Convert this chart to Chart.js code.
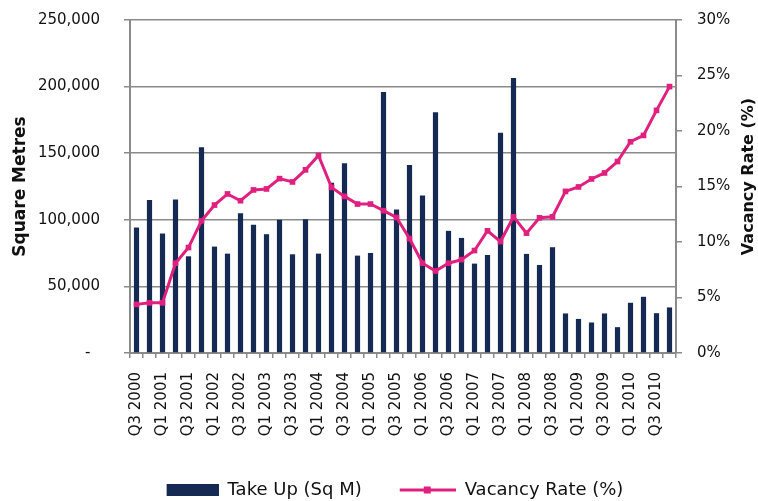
<!DOCTYPE html>
<html>
<head>
<meta charset="utf-8">
<script src="https://cdn.jsdelivr.net/npm/chart.js@4/dist/chart.umd.min.js"></script>
<style>
  html, body { margin: 0; padding: 0; background: #fff; }
  #wrap { width: 758px; height: 501px; }
</style>
</head>
<body>
<div id="wrap"><canvas id="chart"></canvas></div>
<script>
// Quarters Q3 2000 .. Q4 2010
const quarters = [
  "Q3 2000", "Q4 2000",
  "Q1 2001", "Q2 2001", "Q3 2001", "Q4 2001",
  "Q1 2002", "Q2 2002", "Q3 2002", "Q4 2002",
  "Q1 2003", "Q2 2003", "Q3 2003", "Q4 2003",
  "Q1 2004", "Q2 2004", "Q3 2004", "Q4 2004",
  "Q1 2005", "Q2 2005", "Q3 2005", "Q4 2005",
  "Q1 2006", "Q2 2006", "Q3 2006", "Q4 2006",
  "Q1 2007", "Q2 2007", "Q3 2007", "Q4 2007",
  "Q1 2008", "Q2 2008", "Q3 2008", "Q4 2008",
  "Q1 2009", "Q2 2009", "Q3 2009", "Q4 2009",
  "Q1 2010", "Q2 2010", "Q3 2010", "Q4 2010"
];

// Take up, square metres
const takeUp = [
  94200, 114900, 89700, 115300, 72600, 154500, 79900, 74600, 105000, 96200,
  89200, 100000, 74100, 100500, 74600, 127900, 142400, 73100, 75100, 196000,
  107800, 141200, 118300, 180700, 91700, 86400, 67100, 73600, 165300, 206500,
  74400, 66100, 79400, 29700, 25600, 22900, 29700, 19400, 37700, 42200,
  29900, 34200
];

// Vacancy rate, %
const vacancyRate = [
  4.38, 4.52, 4.52, 8.09, 9.50, 11.91, 13.33, 14.33, 13.72, 14.69,
  14.78, 15.71, 15.41, 16.50, 17.79, 14.92, 14.11, 13.42, 13.42, 12.82,
  12.21, 10.31, 8.09, 7.39, 8.09, 8.41, 9.23, 11.01, 10.04, 12.27,
  10.80, 12.18, 12.27, 14.56, 14.96, 15.68, 16.22, 17.25, 19.03, 19.60,
  21.86, 24.00
];

const rightAxisTitle = "Vacancy Rate (%)";

const barColor = "#152A52";
const lineColor = "#E0207F";
const axisColor = "#8A8A8A";
const textColor = "#111111";
const fontFamily = "'DejaVu Sans', sans-serif";

// legend swatches drawn into small canvases and used as point styles
// (both 78px wide, drawn against the right edge so the gaps match)
const makeBarSwatch = () => {
  const c = document.createElement("canvas");
  c.width = 78; c.height = 12;
  const ctx = c.getContext("2d");
  ctx.fillStyle = barColor;
  ctx.fillRect(26, 0, 52, 12);
  return c;
};

const makeLineSwatch = () => {
  const c = document.createElement("canvas");
  c.width = 78; c.height = 12;
  const ctx = c.getContext("2d");
  ctx.strokeStyle = lineColor;
  ctx.lineWidth = 3;
  ctx.beginPath();
  ctx.moveTo(22, 6);
  ctx.lineTo(78, 6);
  ctx.stroke();
  ctx.fillStyle = lineColor;
  ctx.fillRect(46, 2.5, 7, 7);
  return c;
};

const swatches = [makeBarSwatch(), makeLineSwatch()];

// right axis title reads bottom to top, like the left one
const rightTitlePlugin = {
  id: "rightTitle",
  afterLayout: (chart) => {
    // push the legend a little lower
    chart.legend.top += 8;
    chart.legend.bottom += 8;
  },
  afterDraw: (chart) => {
    const { ctx, chartArea } = chart;
    ctx.save();
    ctx.translate(chart.width - 9.5, (chartArea.top + chartArea.bottom) / 2 - 10);
    ctx.rotate(-Math.PI / 2);
    ctx.fillStyle = textColor;
    ctx.font = "bold 16px " + fontFamily;
    ctx.textAlign = "center";
    ctx.textBaseline = "middle";
    ctx.fillText(rightAxisTitle, 0, 0);
    ctx.restore();
  }
};

// fixed axis widths; drop the extra top/bottom room chart.js adds for tick padding
const fixWidth = (w) => (scale) => {
  scale.width = w;
  scale.paddingTop = 0;
  scale.paddingBottom = 0;
};

new Chart(document.getElementById("chart"), {
  data: {
    labels: quarters,
    datasets: [
      {
        type: "line",
        label: "Vacancy Rate (%)",
        data: vacancyRate,
        yAxisID: "yRate",
        borderColor: lineColor,
        backgroundColor: lineColor,
        borderWidth: 3,
        pointStyle: "rect",
        pointRadius: 4,
        pointBorderWidth: 0,
        tension: 0,
        order: 1
      },
      {
        type: "bar",
        label: "Take Up (Sq M)",
        data: takeUp,
        yAxisID: "y",
        backgroundColor: barColor,
        barPercentage: 0.8,
        categoryPercentage: 0.5,
        order: 2
      }
    ]
  },
  plugins: [rightTitlePlugin],
  options: {
    responsive: true,
    maintainAspectRatio: false,
    animation: false,
    layout: { padding: { top: 20, left: 6, right: 0, bottom: 0 } },
    plugins: {
      tooltip: { enabled: false },
      legend: {
        position: "bottom",
        reverse: true,
        labels: {
          usePointStyle: true,
          pointStyleWidth: 78,
          boxHeight: 12,
          padding: 16,
          color: textColor,
          font: { family: fontFamily, size: 18 },
          generateLabels: (chart) => {
            const items = Chart.defaults.plugins.legend.labels.generateLabels(chart);
            items.forEach((item) => {
              item.pointStyle = swatches[item.datasetIndex === 1 ? 0 : 1];
            });
            return items;
          }
        }
      }
    },
    scales: {
      x: {
        offset: true,
        grid: {
          offset: true,
          drawOnChartArea: false,
          drawTicks: true,
          tickLength: 5,
          color: axisColor,
          lineWidth: 1.5
        },
        border: { color: axisColor, width: 2 },
        ticks: {
          autoSkip: false,
          minRotation: 90,
          maxRotation: 90,
          padding: 14,
          color: textColor,
          font: { family: fontFamily, size: 15 },
          callback: function (value, index) {
            return index % 2 === 0 ? this.getLabelForValue(value) : "";
          }
        },
        afterFit: (scale) => { scale.height = 104; }
      },
      y: {
        position: "left",
        min: 0,
        max: 250000,
        grid: {
          color: axisColor,
          lineWidth: 1.5,
          tickLength: 6
        },
        border: { color: axisColor, width: 2 },
        ticks: {
          stepSize: 50000,
          padding: 24,
          color: textColor,
          font: { family: fontFamily, size: 15 },
          callback: (v) => (v === 0 ? "-  " : v.toLocaleString("en-US"))
        },
        title: {
          display: true,
          text: "Square Metres",
          color: textColor,
          font: { family: fontFamily, size: 17, weight: "bold" },
          padding: { top: 4, bottom: 0 }
        },
        afterFit: fixWidth(124)
      },
      yRate: {
        position: "right",
        min: 0,
        max: 30,
        grid: {
          drawOnChartArea: false,
          color: axisColor,
          lineWidth: 1.5,
          tickLength: 6
        },
        border: { color: axisColor, width: 2 },
        ticks: {
          stepSize: 5,
          padding: 15,
          color: textColor,
          font: { family: fontFamily, size: 15 },
          callback: (v) => v + "%"
        },
        afterFit: fixWidth(82)
      }
    }
  }
});
</script>
</body>
</html>
